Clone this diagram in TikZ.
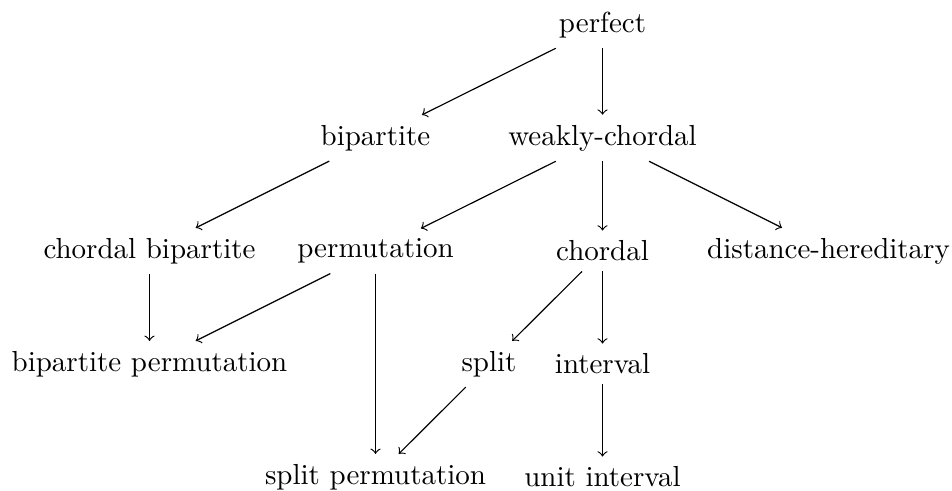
\documentclass[tikz,border=0pt]{standalone}
\begin{document}
\begin{tikzpicture}[x=0.345pt,y=-0.345pt,
  cls/.style={inner sep=3.333pt},
  arr/.style={->}]
\useasboundingbox (0,0) rectangle (952,490);
\node[cls] (perfect) at (602.5,25) {perfect};
\node[cls] (bip) at (375.5,138) {bipartite};
\node[cls] (wc) at (602.5,138) {weakly-chordal};
\node[cls] (cb) at (149.5,251) {chordal bipartite};
\node[cls] (perm) at (375.5,251) {permutation};
\node[cls] (chordal) at (602.5,251) {chordal};
\node[cls] (dh) at (828.5,251) {distance-hereditary};
\node[cls] (bp) at (149.5,364) {bipartite permutation};
\node[cls] (split) at (489,364) {split};
\node[cls] (interval) at (602.5,364) {interval};
\node[cls] (sp) at (375.5,477) {split permutation};
\node[cls] (ui) at (602.5,477) {unit interval};
\draw[arr] (perfect) -- (bip);
\draw[arr] (perfect) -- (wc);
\draw[arr] (bip) -- (cb);
\draw[arr] (wc) -- (perm);
\draw[arr] (wc) -- (chordal);
\draw[arr] (wc) -- (dh);
\draw[arr] (cb) -- (bp);
\draw[arr] (perm) -- (bp);
\draw[arr] (perm) -- (sp);
\draw[arr] (chordal) -- (split);
\draw[arr] (chordal) -- (interval);
\draw[arr] (split) -- (sp);
\draw[arr] (interval) -- (ui);
\end{tikzpicture}
\end{document}
